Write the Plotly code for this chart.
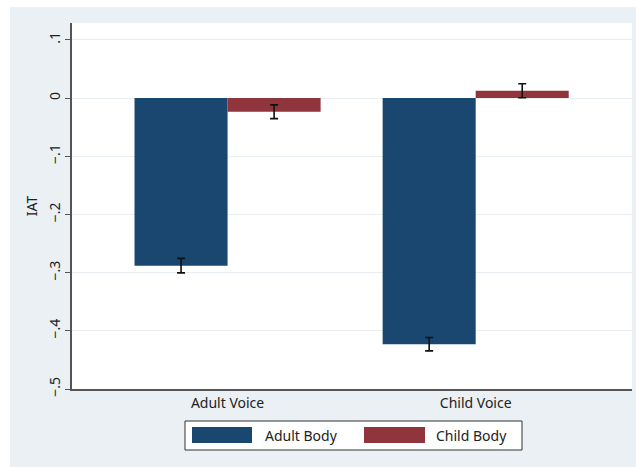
import plotly.graph_objects as go

# Data
voices = ["Adult Voice", "Child Voice"]
adult_body = [-0.288, -0.423]
adult_body_err = [0.0125, 0.0115]
child_body = [-0.0235, 0.0125]
child_body_err = [0.0118, 0.012]
series_names = ["Adult Body", "Child Body"]
y_ticks = [0.1, 0.0, -0.1, -0.2, -0.3, -0.4, -0.5]
y_tick_labels = [".1", "0", "\u2212.1", "\u2212.2", "\u2212.3", "\u2212.4", "\u2212.5"]

NAVY = "#1A476F"
MAROON = "#90353B"
PANEL = "#EAF0F3"
AXIS = "#555555"
FONT = "Noto Sans"

fig = go.Figure()
for name, vals, errs, col in [
    (series_names[0], adult_body, adult_body_err, NAVY),
    (series_names[1], child_body, child_body_err, MAROON),
]:
    fig.add_trace(go.Bar(
        x=voices, y=vals, name=name,
        marker=dict(color=col, line=dict(width=0)),
        error_y=dict(type="data", array=errs, color="#111111", thickness=1.6, width=4),
        showlegend=False,
    ))

# Plot area spans pixels x 72..632, y 23..389 in a 636x467 page
L, R, T, B = 72, 632, 23, 389
W, H = R - L, B - T


def px(xp):
    return (xp - L) / W


def py(yp):
    return (B - yp) / H


shapes = [
    # white strips around the grey panel
    dict(type="rect", xref="paper", yref="paper", x0=px(0), x1=px(10), y0=py(467), y1=py(0),
         fillcolor="white", line=dict(width=0), layer="below"),
    dict(type="rect", xref="paper", yref="paper", x0=px(0), x1=px(636), y0=py(7), y1=py(0),
         fillcolor="white", line=dict(width=0), layer="below"),
    # legend box
    dict(type="rect", xref="paper", yref="paper", x0=px(185), x1=px(522), y0=py(450), y1=py(421),
         fillcolor="white", line=dict(color="#333333", width=1)),
    dict(type="rect", xref="paper", yref="paper", x0=px(192), x1=px(252), y0=py(443), y1=py(427),
         fillcolor=NAVY, line=dict(width=0)),
    dict(type="rect", xref="paper", yref="paper", x0=px(364), x1=px(425), y0=py(443), y1=py(427),
         fillcolor=MAROON, line=dict(width=0)),
]

annotations = [
    dict(xref="paper", yref="paper", x=px(263), y=py(435.5), text=series_names[0], showarrow=False,
         xanchor="left", yanchor="middle", font=dict(family=FONT, size=14, color="#222222")),
    dict(xref="paper", yref="paper", x=px(434), y=py(435.5), text=series_names[1], showarrow=False,
         xanchor="left", yanchor="middle", font=dict(family=FONT, size=14, color="#222222")),
]

fig.update_layout(
    width=636, height=467,
    margin=dict(l=L, r=636 - R, t=T, b=467 - B),
    paper_bgcolor=PANEL, plot_bgcolor="white",
    barmode="group", bargap=0.25, bargroupgap=0,
    font=dict(family=FONT, size=14, color="#222222"),
    shapes=shapes, annotations=annotations,
    xaxis=dict(
        range=[-0.627, 1.630], showgrid=False, zeroline=False,
        showline=True, linecolor=AXIS, linewidth=1.5,
        ticks="", tickfont=dict(size=14, color="#222222"),
    ),
    yaxis=dict(
        range=[-0.5, 0.129], tickvals=y_ticks, ticktext=y_tick_labels,
        tickangle=-90, ticks="outside", ticklen=5, tickcolor=AXIS, tickwidth=1,
        showline=True, linecolor=AXIS, linewidth=1.5,
        showgrid=True, gridcolor="#E8EEF1", gridwidth=1, zeroline=False,
        tickfont=dict(size=14, color="#222222"),
        title=dict(text="IAT", font=dict(size=14, color="#222222"), standoff=4),
    ),
)

fig.write_html("out.html")
